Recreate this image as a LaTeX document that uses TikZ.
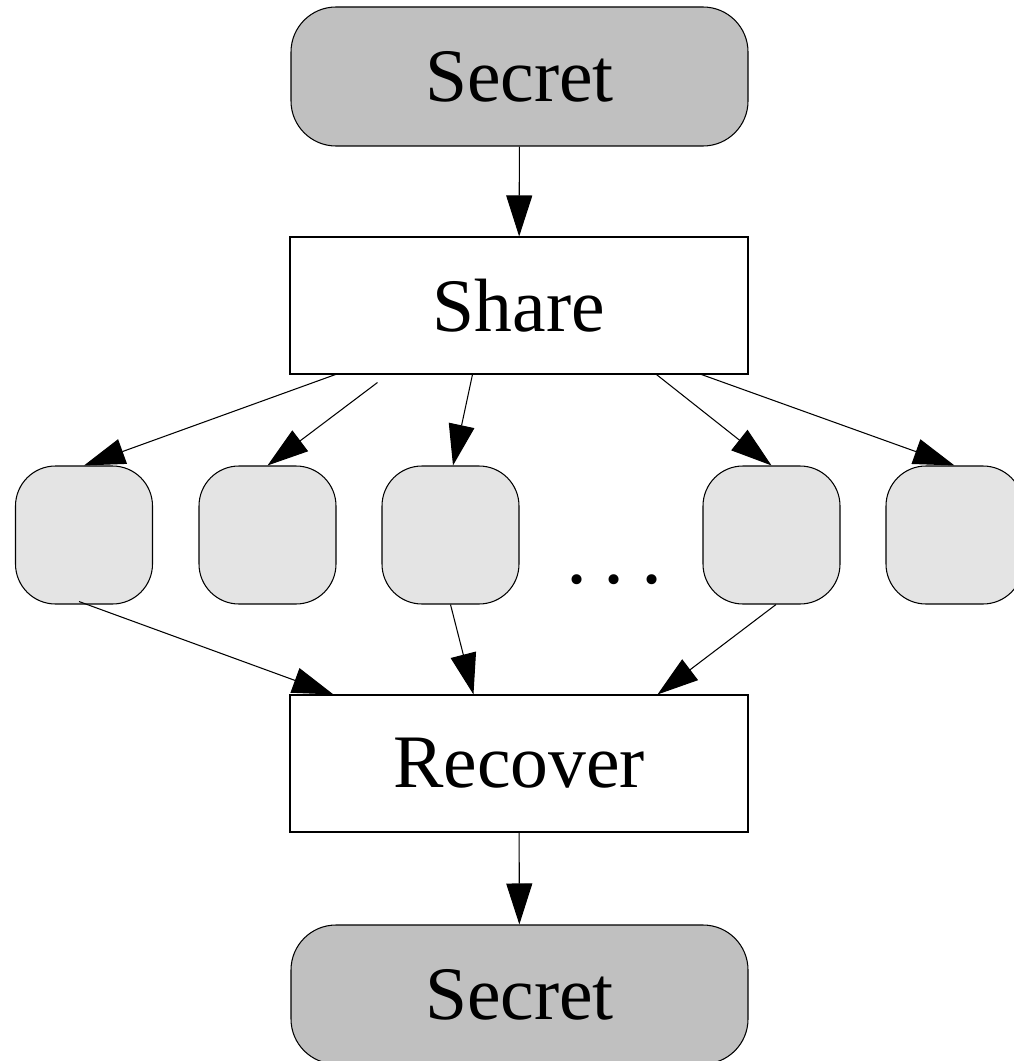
\documentclass[tikz,border=0pt]{standalone}
\usepackage{fontspec}
\setmainfont{Liberation Serif}
\usetikzlibrary{arrows.meta}

\definecolor{secretgray}{RGB}{192,192,192}
\definecolor{sharegray}{RGB}{228,228,228}

\begin{document}
\begin{tikzpicture}[
	secretbox/.style={draw, fill=secretgray, rounded corners=0.9cm, minimum width=9.14cm, minimum height=2.78cm, inner sep=0pt, line width=0.6pt, font=\fontsize{43}{52}\selectfont},
	stepbox/.style={draw, fill=white, minimum width=9.16cm, minimum height=2.74cm, inner sep=0pt, line width=0.6pt, font=\fontsize{43}{52}\selectfont},
	sharebox/.style={draw, fill=sharegray, rounded corners=0.8cm, minimum width=2.74cm, minimum height=2.76cm, inner sep=0pt, line width=0.6pt},
	arr/.style={line width=0.6pt, -{Triangle[length=0.82cm, width=0.52cm]}}
	]
	\useasboundingbox (0,0) rectangle (20.26,-21.22);

	% secret and the two steps
	\node[secretbox] (top) at (10.39,-1.53) {Secret};
	\node[stepbox] (share) at (10.38,-6.11) {Share};
	\node[stepbox] (rec) at (10.38,-15.27) {Recover};
	\node[secretbox] (bot) at (10.39,-19.89) {Secret};

	% the shares
	\node[sharebox] (p1) at (1.68,-10.70) {};
	\node[sharebox] (p2) at (5.35,-10.70) {};
	\node[sharebox] (p3) at (9.01,-10.70) {};
	\node[sharebox] (p4) at (15.43,-10.70) {};
	\node[sharebox] (p5) at (19.09,-10.70) {};
	\node[anchor=base, inner sep=0pt, font=\fontsize{48}{56}\selectfont] (dots) at (12.29,-11.66) {.\kern0.2em.\kern0.2em.};

	\draw[arr] (top) -- (share);

	\draw[arr] ([xshift=0.92cm]share.south west) -- (p1.north);
	\draw[arr] ([xshift=1.76cm,yshift=-0.16cm]share.south west) -- (p2.north);
	\draw[arr] ([xshift=3.66cm]share.south west) -- ([xshift=0.05cm]p3.north);
	\draw[arr] ([xshift=7.34cm]share.south west) -- (p4.north);
	\draw[arr] ([xshift=8.24cm]share.south west) -- (p5.north);

	\draw[arr] ([xshift=-0.1cm,yshift=0.06cm]p1.south) -- ([xshift=0.88cm]rec.north west);
	\draw[arr] (p3.south) -- ([xshift=3.68cm]rec.north west);
	\draw[arr] ([xshift=0.09cm]p4.south) -- ([xshift=7.36cm]rec.north west);

	\draw[arr] (rec) -- (bot);

\end{tikzpicture}
\end{document}
